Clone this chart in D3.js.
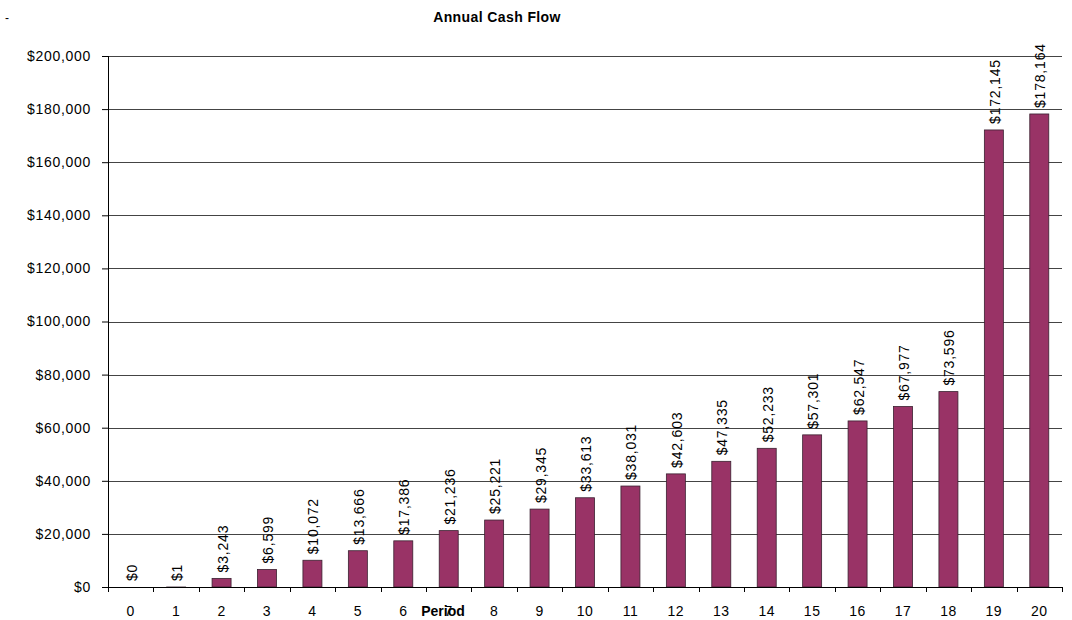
<!DOCTYPE html>
<html>
<head>
<meta charset="utf-8">
<script src="https://cdn.jsdelivr.net/npm/d3@7"></script>
<style>
body { margin: 0; background: #fff; }
svg { font-family: "Liberation Sans", Arial, sans-serif; }
</style>
</head>
<body>
<div id="chart"></div>
<script>
// chart data
const PERIODS = ["0","1","2","3","4","5","6","7","8","9","10","11","12","13","14","15","16","17","18","19","20"];
const CASH_FLOW = [0, 1, 3243, 6599, 10072, 13666, 17386, 21236, 25221, 29345, 33613, 38031, 42603, 47335, 52233, 57301, 62547, 67977, 73596, 172145, 178164];
const Y_TICKS = [0, 20000, 40000, 60000, 80000, 100000, 120000, 140000, 160000, 180000, 200000];

// frame
const FRAME_WIDTH = 1072;
const FRAME_HEIGHT = 620;
const MARGINS = {left: 108, right: 10, top: 56, bottom: 33};
const VIS_WIDTH = FRAME_WIDTH - MARGINS.left - MARGINS.right;
const VIS_HEIGHT = FRAME_HEIGHT - MARGINS.top - MARGINS.bottom;

const FRAME = d3.select("#chart")
                .append("svg")
                  .attr("width", FRAME_WIDTH)
                  .attr("height", FRAME_HEIGHT);

const money = d3.format("$,");

// scales
const X_SCALE = d3.scaleBand()
                  .domain(PERIODS)
                  .range([0, VIS_WIDTH]);
const BAR_W = 19;

const Y_SCALE = d3.scaleLinear()
                  .domain([0, 200000])
                  .range([VIS_HEIGHT, 0]);

const G = FRAME.append("g")
               .attr("transform", "translate(" + MARGINS.left + "," + MARGINS.top + ")");

// gridlines
G.selectAll(".grid")
  .data(Y_TICKS.slice(1))
  .enter()
  .append("line")
    .attr("x1", 0)
    .attr("x2", VIS_WIDTH)
    .attr("y1", (d) => Math.round(Y_SCALE(d)) + 0.5)
    .attr("y2", (d) => Math.round(Y_SCALE(d)) + 0.5)
    .attr("stroke", "#444")
    .attr("stroke-width", 1);

// y-axis
const yAxis = G.append("g")
               .call(d3.axisLeft(Y_SCALE).tickValues(Y_TICKS).tickFormat(money).tickSize(6).tickPadding(11));
yAxis.selectAll("text")
     .attr("font-size", "14px")
     .attr("letter-spacing", "0.7px")
     .attr("fill", "#000")
     .style("font-family", "Liberation Sans, Arial, sans-serif");
yAxis.selectAll("line").attr("stroke", "#000");
yAxis.select(".domain").attr("d", "M0.5,0V" + VIS_HEIGHT).attr("stroke", "#000");

// bars
G.selectAll(".bar")
  .data(CASH_FLOW)
  .enter()
  .append("rect")
    .attr("class", "bar")
    .attr("x", (d, i) => X_SCALE(PERIODS[i]) + (X_SCALE.bandwidth() - BAR_W) / 2)
    .attr("width", BAR_W)
    .attr("y", (d) => Y_SCALE(d))
    .attr("height", (d) => VIS_HEIGHT - Y_SCALE(d))
    .attr("fill", "#993366")
    .attr("stroke", "#3a2030")
    .attr("stroke-width", 0.8);

// value labels
G.selectAll(".lbl")
  .data(CASH_FLOW)
  .enter()
  .append("text")
    .attr("transform", (d, i) => "translate(" + (X_SCALE(PERIODS[i]) + X_SCALE.bandwidth() / 2 + 6) + "," + (Y_SCALE(d) - 6) + ") rotate(-90)")
    .attr("font-size", "14px")
    .attr("letter-spacing", "0.8px")
    .attr("fill", "#000")
    .text((d) => money(d));

// x-axis line and ticks
G.append("line")
  .attr("x1", 0).attr("x2", VIS_WIDTH)
  .attr("y1", VIS_HEIGHT + 0.5).attr("y2", VIS_HEIGHT + 0.5)
  .attr("stroke", "#000");

G.selectAll(".xtick")
  .data(d3.range(PERIODS.length + 1))
  .enter()
  .append("line")
    .attr("x1", (d) => Math.round(X_SCALE.step() * d) + 0.5)
    .attr("x2", (d) => Math.round(X_SCALE.step() * d) + 0.5)
    .attr("y1", VIS_HEIGHT)
    .attr("y2", VIS_HEIGHT + 5)
    .attr("stroke", "#000");

G.selectAll(".xlbl")
  .data(PERIODS)
  .enter()
  .append("text")
    .attr("x", (d) => X_SCALE(d) + X_SCALE.bandwidth() / 2)
    .attr("y", VIS_HEIGHT + 29)
    .attr("text-anchor", "middle")
    .attr("font-size", "14px")
    .attr("letter-spacing", "0.5px")
    .text((d) => d);

// title and axis title
FRAME.append("text")
  .attr("x", 497).attr("y", 22)
  .attr("text-anchor", "middle")
  .attr("font-size", "14px")
  .attr("letter-spacing", "0.4px")
  .attr("font-weight", "bold")
  .text("Annual Cash Flow");

FRAME.append("text")
  .attr("x", 443).attr("y", 616)
  .attr("text-anchor", "middle")
  .attr("font-size", "14px")
  .attr("font-weight", "bold")
  .text("Period");

FRAME.append("text")
  .attr("x", 5).attr("y", 22)
  .attr("font-size", "12px")
  .text("-");
</script>
</body>
</html>
